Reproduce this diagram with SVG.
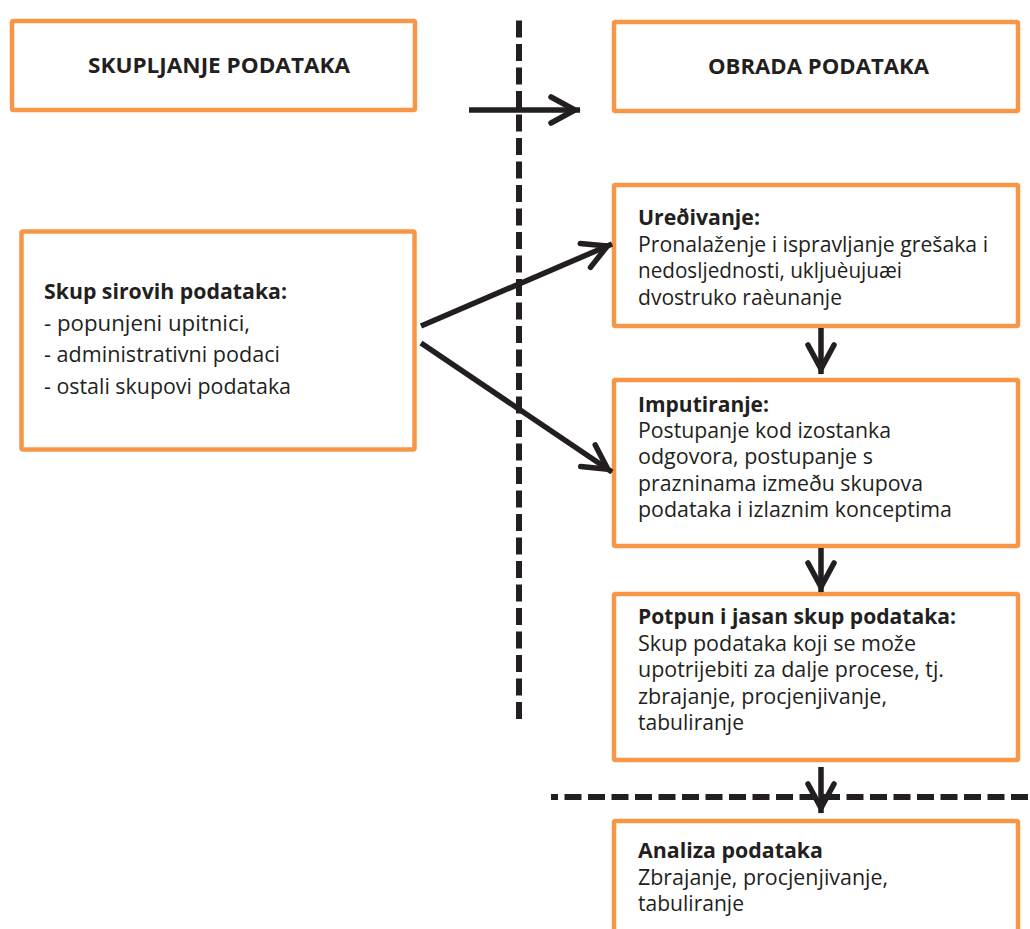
<svg xmlns="http://www.w3.org/2000/svg" width="1030" height="929" viewBox="0 0 1030 929">
<style>
.box{fill:#FFFFFF;stroke:#F79646;stroke-width:4.5;stroke-linejoin:round}
.t{font-family:"Open Sans","Noto Sans","Liberation Sans",sans-serif;font-size:21px;fill:#231F20}
.b{font-weight:bold}
.h{font-family:"Open Sans","Noto Sans","Liberation Sans",sans-serif;font-size:22px;font-weight:bold;fill:#231F20}
.ln{fill:none;stroke:#231F20;stroke-width:5.5}
.dash{fill:none;stroke:#231F20;stroke-width:6;stroke-dasharray:17 6.5}
</style>
<defs>
<marker id="ah" viewBox="-34 -16 38 32" refX="0" refY="0" markerWidth="38" markerHeight="32" markerUnits="userSpaceOnUse" orient="auto">
<path d="M-29,-13 L-5,0 L-29,13" fill="none" stroke="#231F20" stroke-width="5.5" stroke-linecap="round" stroke-linejoin="miter"/>
</marker>
</defs>
<rect width="1030" height="929" fill="#FFFFFF"/>
<g id="separators">
<line class="dash" x1="519" y1="20.5" x2="519" y2="719"/>
<line class="dash" x1="551" y1="797" x2="1030" y2="797" stroke-dashoffset="10"/>
</g>
<g id="n-skupljanje">
<rect class="box" x="12" y="21" width="403" height="89" rx="1.5"/>
<text class="h" x="88" y="72.5" textLength="262" lengthAdjust="spacingAndGlyphs">SKUPLJANJE PODATAKA</text>
</g>
<g id="n-obrada">
<rect class="box" x="614" y="22" width="404" height="89" rx="1.5"/>
<text class="h" x="708" y="73.5" textLength="221" lengthAdjust="spacingAndGlyphs">OBRADA PODATAKA</text>
</g>
<g id="n-sirovi">
<rect class="box" x="21.5" y="231.5" width="393" height="218" rx="1.5"/>
<text class="t" style="font-size:22px">
<tspan class="b" x="44" y="299" textLength="243" lengthAdjust="spacingAndGlyphs">Skup sirovih podataka:</tspan>
<tspan x="44" y="330.5" textLength="206" lengthAdjust="spacingAndGlyphs">- popunjeni upitnici,</tspan>
<tspan x="44" y="362" textLength="236" lengthAdjust="spacingAndGlyphs">- administrativni podaci</tspan>
<tspan x="44" y="393.5" textLength="247" lengthAdjust="spacingAndGlyphs">- ostali skupovi podataka</tspan>
</text>
</g>
<g id="n-uredivanje">
<rect class="box" x="614" y="185" width="404" height="141" rx="1.5"/>
<text class="t">
<tspan class="b" x="638" y="225" textLength="122" lengthAdjust="spacingAndGlyphs">Ureðivanje:</tspan>
<tspan x="638" y="251.5" textLength="350" lengthAdjust="spacingAndGlyphs">Pronalaženje i ispravljanje grešaka i</tspan>
<tspan x="638" y="278" textLength="264" lengthAdjust="spacingAndGlyphs">nedosljednosti, ukljuèujuæi</tspan>
<tspan x="638" y="304.5" textLength="204" lengthAdjust="spacingAndGlyphs">dvostruko raèunanje</tspan>
</text>
</g>
<g id="n-imputiranje">
<rect class="box" x="614" y="380" width="404" height="166" rx="1.5"/>
<text class="t">
<tspan class="b" x="638" y="411.5" textLength="131" lengthAdjust="spacingAndGlyphs">Imputiranje:</tspan>
<tspan x="638" y="438" textLength="253" lengthAdjust="spacingAndGlyphs">Postupanje kod izostanka</tspan>
<tspan x="638" y="464" textLength="235" lengthAdjust="spacingAndGlyphs">odgovora, postupanje s</tspan>
<tspan x="638" y="490.5" textLength="285" lengthAdjust="spacingAndGlyphs">prazninama izmeðu skupova</tspan>
<tspan x="638" y="517" textLength="314" lengthAdjust="spacingAndGlyphs">podataka i izlaznim konceptima</tspan>
</text>
</g>
<g id="n-potpun">
<rect class="box" x="614" y="594" width="404" height="166" rx="1.5"/>
<text class="t">
<tspan class="b" x="638" y="624" textLength="318" lengthAdjust="spacingAndGlyphs">Potpun i jasan skup podataka:</tspan>
<tspan x="638" y="650.5" textLength="278" lengthAdjust="spacingAndGlyphs">Skup podataka koji se može</tspan>
<tspan x="638" y="677" textLength="306" lengthAdjust="spacingAndGlyphs">upotrijebiti za dalje procese, tj.</tspan>
<tspan x="638" y="703.5" textLength="249" lengthAdjust="spacingAndGlyphs">zbrajanje, procjenjivanje,</tspan>
<tspan x="638" y="730" textLength="106" lengthAdjust="spacingAndGlyphs">tabuliranje</tspan>
</text>
</g>
<g id="n-analiza">
<rect class="box" x="614" y="821" width="404" height="130" rx="1.5"/>
<text class="t">
<tspan class="b" x="638" y="858" textLength="185" lengthAdjust="spacingAndGlyphs">Analiza podataka</tspan>
<tspan x="638" y="884.5" textLength="250" lengthAdjust="spacingAndGlyphs">Zbrajanje, procjenjivanje,</tspan>
<tspan x="638" y="911" textLength="106" lengthAdjust="spacingAndGlyphs">tabuliranje</tspan>
</text>
</g>
<g id="connectors">
<line class="ln" x1="469" y1="110" x2="580" y2="110" marker-end="url(#ah)"/>
<line class="ln" x1="421" y1="326" x2="612" y2="244" marker-end="url(#ah)"/>
<line class="ln" x1="421" y1="343" x2="612" y2="472" marker-end="url(#ah)"/>
<line class="ln" x1="821" y1="328" x2="821" y2="374" marker-end="url(#ah)"/>
<line class="ln" x1="821" y1="548" x2="821" y2="592" marker-end="url(#ah)"/>
<line class="ln" x1="821" y1="767" x2="821" y2="813" marker-end="url(#ah)"/>
</g>
</svg>
